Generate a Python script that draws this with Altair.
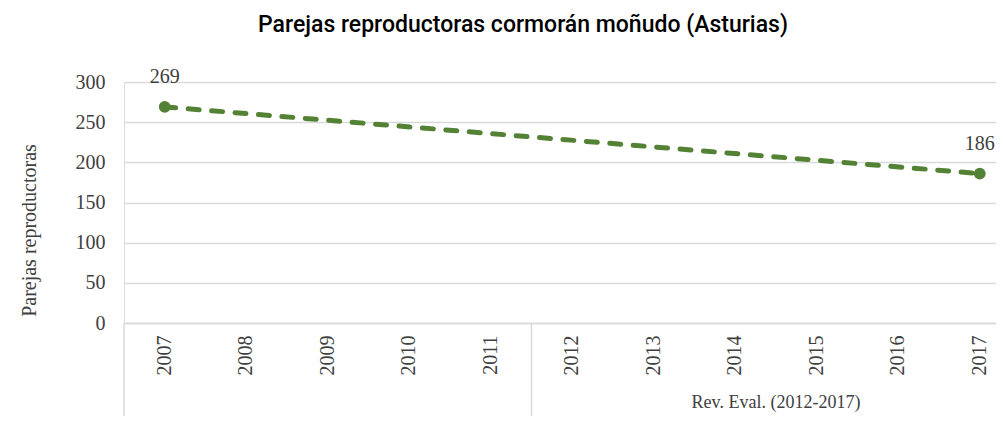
import altair as alt
import pandas as pd

# ---- data ----
years = ["2007", "2008", "2009", "2010", "2011", "2012", "2013", "2014", "2015", "2016", "2017"]
obs_years = ["2007", "2017"]
obs_values = [269, 186]
group_labels = ["Rev. Eval. (2012-2017)"]
group_mid_year = ["2014"]          # band whose right edge is the middle of 2012-2017
boundary_years = ["2007", "2012"]  # left edges of the category groups

TITLE = "Parejas reproductoras cormorán moñudo (Asturias)"
Y_TITLE = "Parejas reproductoras"

df_pts = pd.DataFrame({"year": obs_years, "value": obs_values})
df_groups = pd.DataFrame({"year": group_mid_year, "label": group_labels})
df_bounds = pd.DataFrame({"year": boundary_years})

W, H = 872, 241
GREEN = "#548235"
TXT = "#404040"
GRID = "#d9d9d9"
SERIF = "Liberation Serif"
TFONT = "Roboto"

xs = alt.Scale(type="band", domain=years, range=[0, 896.5], paddingInner=0, paddingOuter=0)
ys = alt.Scale(domain=[0, 300], nice=False)

x_axis = alt.Axis(
    title=None, labelAngle=270, labelPadding=12, ticks=False, grid=False,
    domainColor=GRID, domainWidth=1.5, labelFont=SERIF, labelFontSize=20,
    labelColor=TXT, labelAlign="right", labelBaseline="middle",
)
y_axis = alt.Axis(
    values=[0, 50, 100, 150, 200, 250, 300], grid=True, gridColor=GRID, gridWidth=1.5,
    domain=False, ticks=False, labelPadding=19, labelFont=SERIF, labelFontSize=20,
    labelColor=TXT, title=Y_TITLE, titleFont=SERIF, titleFontSize=20,
    titleFontWeight="normal", titleColor=TXT, titleAngle=270, titleX=-95,
    titleY=148, titleAlign="center", titleBaseline="middle",
)

X = lambda bp: alt.X("year:O", scale=xs, axis=x_axis, bandPosition=bp)
Y = alt.Y("value:Q", scale=ys, axis=y_axis)

line = alt.Chart(df_pts).mark_line(
    color=GREEN, strokeWidth=5, strokeDash=[11, 12.5], strokeCap="round"
).encode(x=X(0.5), y=Y)

points = alt.Chart(df_pts).mark_circle(color=GREEN, size=140, opacity=1).encode(
    x=X(0.5), y=Y
)

labels = alt.Chart(df_pts).mark_text(
    font=SERIF, fontSize=20, color=TXT, dy=-30, baseline="middle"
).encode(x=X(0.5), y=Y, text=alt.Text("value:Q", format="d"))

bounds = alt.Chart(df_bounds).mark_rule(color=GRID, strokeWidth=1.5).encode(
    x=X(0), y=alt.value(H), y2=alt.value(H + 100)
)

glabel = alt.Chart(df_groups).mark_text(
    font=SERIF, fontSize=18, color=TXT, baseline="middle"
).encode(x=X(1), y=alt.value(H + 80), text="label:N")

chart = alt.layer(line, bounds, points, labels, glabel).properties(
    width=W,
    height=H,
    title=alt.TitleParams(
        TITLE, font=TFONT, fontSize=23, fontWeight=500, color="#000000",
        anchor="middle", frame="group", dx=-37, offset=30,
    ),
    autosize=alt.AutoSizeParams(type="none"),
    padding={"left": 116, "top": 74, "right": 0, "bottom": 93},
).configure_view(stroke=None).configure(background="white")

chart.save("out.html", embed_options={"renderer": "svg", "actions": False})
